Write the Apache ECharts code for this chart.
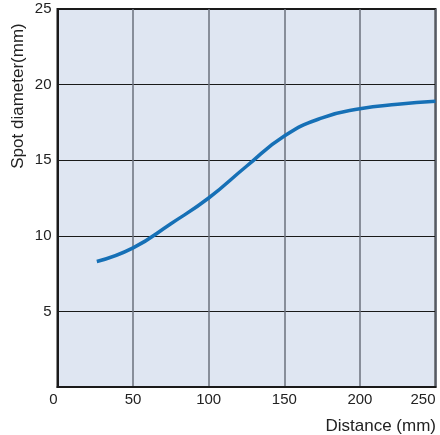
<!DOCTYPE html>
<html>
<head>
<meta charset="utf-8">
<script src="https://cdn.jsdelivr.net/npm/echarts@6/dist/echarts.min.js"></script>
<style>
  html, body { margin: 0; padding: 0; background: #fff; }
  #chart { width: 440px; height: 435px; }
</style>
</head>
<body>
<div id="chart"></div>
<script>
// distance (mm) vs spot diameter (mm)
var distance = [26, 50, 75, 100, 125, 150, 175, 200, 225, 250]
var diameter = [8.3, 9.2, 10.8, 12.5, 14.6, 16.6, 17.8, 18.4, 18.7, 18.9]
var xTicks = [0, 50, 100, 150, 200, 250]
var yTicks = [0, 5, 10, 15, 20, 25]

var points = distance.map(function (d, i) { return [d, diameter[i]] })

var chart = echarts.init(document.getElementById('chart'))
var font = 'Liberation Sans, Arial, sans-serif'

var option = {
  animation: false,
  textStyle: { fontFamily: font },
  grid: {
    left: 57.5,
    right: 4.5,
    top: 9,
    bottom: 48,
    show: true,
    backgroundColor: '#dfe6f2',
    borderColor: '#1a1a1a',
    borderWidth: 2
  },
  xAxis: {
    type: 'value',
    min: xTicks[0],
    max: xTicks[xTicks.length - 1],
    interval: 50,
    axisLine: { show: true, lineStyle: { color: '#1a1a1a', width: 2 } },
    axisTick: { show: false },
    axisLabel: {
      color: '#222',
      fontSize: 15,
      fontFamily: font,
      margin: 5,
      alignMinLabel: 'right',
      alignMaxLabel: 'right'
    },
    splitLine: { show: true, lineStyle: { color: '#6b717c', width: 1.5 } }
  },
  yAxis: {
    type: 'value',
    min: yTicks[0],
    max: yTicks[yTicks.length - 1],
    interval: 5,
    axisLine: { show: true, lineStyle: { color: '#1a1a1a', width: 2 } },
    axisTick: { show: false },
    axisLabel: {
      color: '#222',
      fontSize: 15,
      fontFamily: font,
      margin: 6,
      showMinLabel: false
    },
    splitLine: { show: true, lineStyle: { color: '#1a1a1a', width: 1 } }
  },
  graphic: [
    {
      type: 'text',
      x: 18,
      y: 96,
      rotation: Math.PI / 2,
      style: {
        text: 'Spot diameter(mm)',
        fill: '#222',
        font: '17px ' + font,
        align: 'center',
        verticalAlign: 'middle'
      }
    },
    {
      type: 'text',
      x: 436,
      y: 426,
      style: {
        text: 'Distance (mm)',
        fill: '#222',
        font: '17px ' + font,
        align: 'right',
        verticalAlign: 'middle'
      }
    }
  ],
  series: [
    {
      type: 'line',
      data: points,
      smooth: 0.5,
      showSymbol: false,
      lineStyle: { color: '#1670b6', width: 3.5 },
      z: 5
    }
  ]
}
chart.setOption(option)
</script>
</body>
</html>
